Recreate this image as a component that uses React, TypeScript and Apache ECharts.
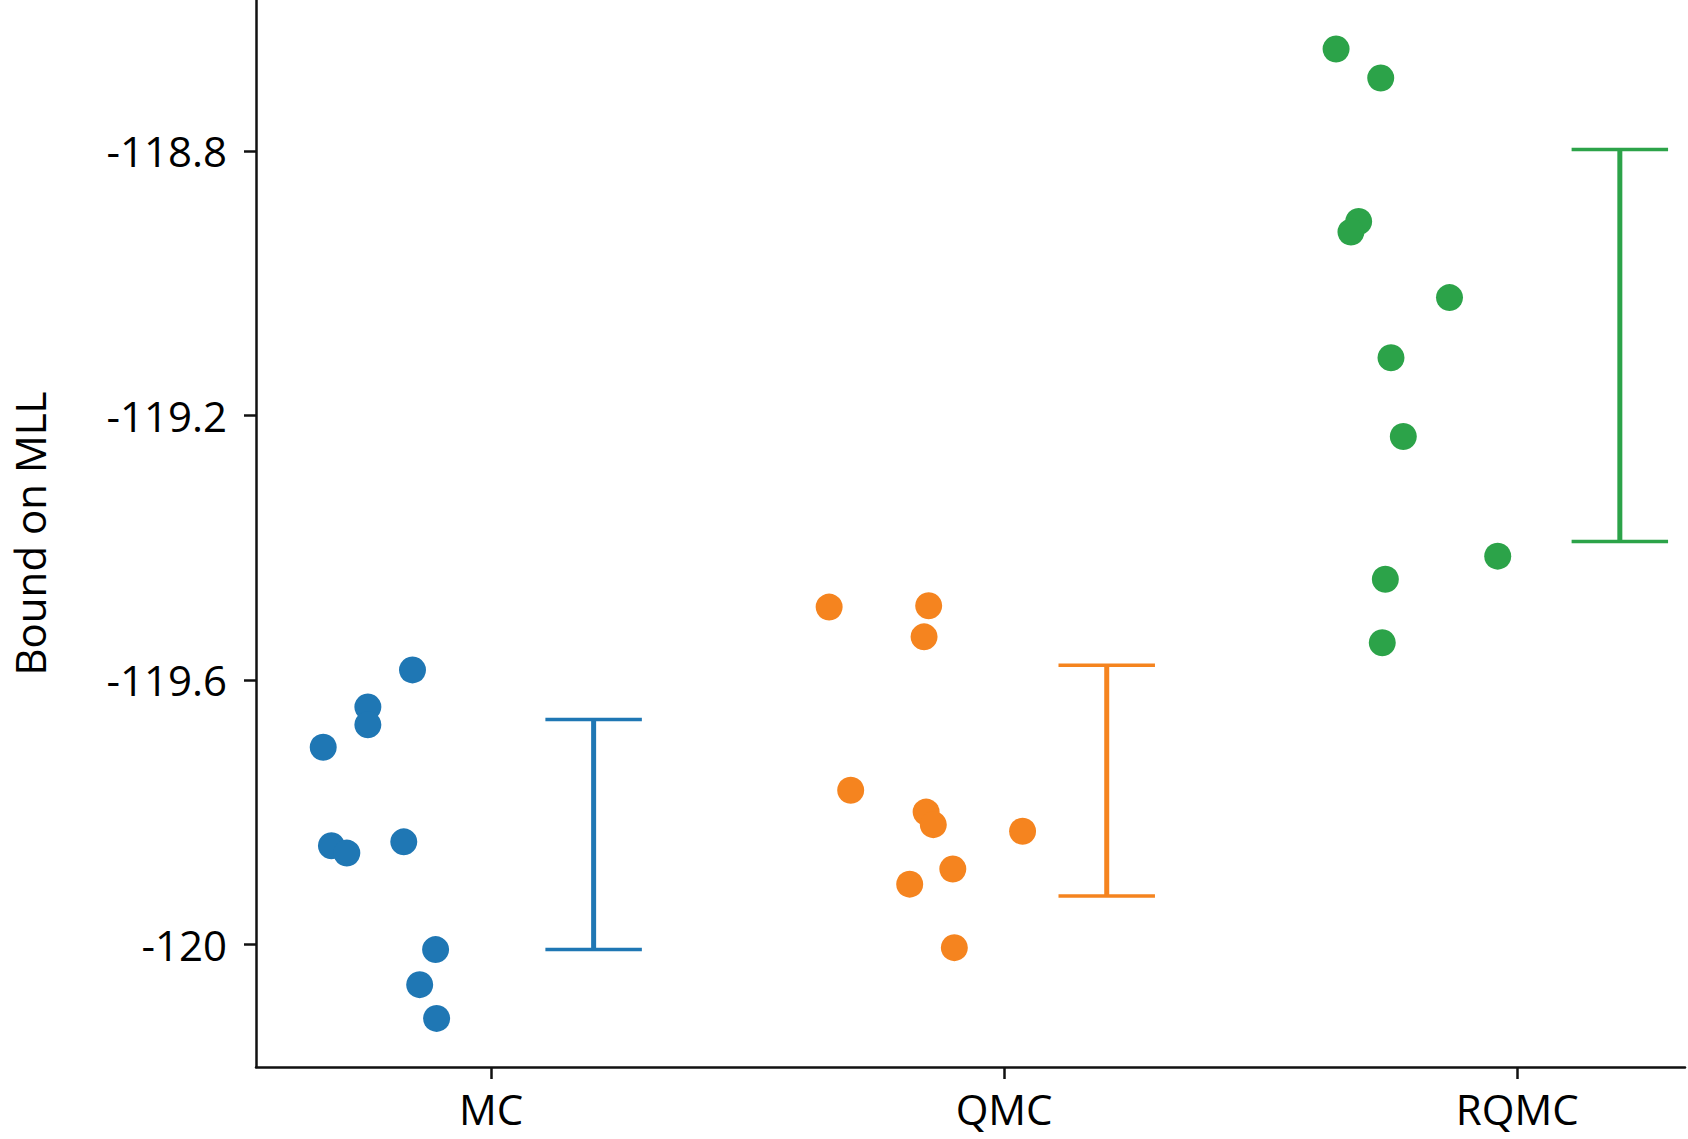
import React, { useEffect, useRef } from "react";
import * as echarts from "echarts";

const categories = ["MC", "QMC", "RQMC"];
const yTicks = [-120, -119.6, -119.2, -118.8];

const mcX = [-0.327, -0.24, -0.24, -0.153, -0.311, -0.281, -0.17, -0.108, -0.139, -0.106];
const mcY = [-119.702, -119.641, -119.668, -119.585, -119.851, -119.862, -119.845, -120.008, -120.061, -120.112];
const qmcX = [0.659, 0.853, 0.844, 0.701, 0.848, 0.862, 1.036, 0.9, 0.816, 0.903];
const qmcY = [-119.49, -119.488, -119.535, -119.767, -119.8, -119.819, -119.829, -119.886, -119.909, -120.005];
const rqmcX = [1.647, 1.734, 1.691, 1.676, 1.868, 1.754, 1.778, 1.962, 1.743, 1.737];
const rqmcY = [-118.646, -118.69, -118.907, -118.923, -119.022, -119.113, -119.232, -119.413, -119.448, -119.544];

const errX = [0.2, 1.2, 2.2];
const errHigh = [-119.66, -119.578, -118.798];
const errLow = [-120.008, -119.927, -119.391];

const colors = ["#1f77b4", "#f5841f", "#2ca349"];
const FONT = "Open Sans";

export default function App() {
  const ref = useRef<HTMLDivElement>(null);
  useEffect(() => {
    document.body.style.margin = "0";
    document.body.style.overflow = "hidden";
    const chart = echarts.init(ref.current!, null, { renderer: "svg" });
    const pts = [
      mcX.map((x, i) => [x, mcY[i]]),
      qmcX.map((x, i) => [x, qmcY[i]]),
      rqmcX.map((x, i) => [x, rqmcY[i]]),
    ];
    const capHalf = 0.094;
    const scatterSeries = pts.map((d, i) => ({
      type: "scatter",
      data: d,
      symbolSize: 27,
      itemStyle: { color: colors[i], opacity: 1 },
      z: 3,
    }));
    const errSeries = {
      type: "custom",
      data: errX.map((x, i) => [x, errLow[i], errHigh[i], i]),
      encode: { x: 0, y: [1, 2] },
      z: 2,
      renderItem: (params: any, api: any) => {
        const x = api.value(0);
        const lo = api.value(1);
        const hi = api.value(2);
        const idx = api.value(3);
        const c = colors[idx];
        const pHi = api.coord([x, hi]);
        const pLo = api.coord([x, lo]);
        const lHi = api.coord([x - capHalf, hi]);
        const rHi = api.coord([x + capHalf, hi]);
        const lLo = api.coord([x - capHalf, lo]);
        const rLo = api.coord([x + capHalf, lo]);
        return {
          type: "group",
          children: [
            { type: "line", shape: { x1: pHi[0], y1: pHi[1], x2: pLo[0], y2: pLo[1] }, style: { stroke: c, lineWidth: 5 } },
            { type: "line", shape: { x1: lHi[0], y1: lHi[1], x2: rHi[0], y2: rHi[1] }, style: { stroke: c, lineWidth: 3.5 } },
            { type: "line", shape: { x1: lLo[0], y1: lLo[1], x2: rLo[0], y2: rLo[1] }, style: { stroke: c, lineWidth: 3.5 } },
          ],
        };
      },
    };
    chart.setOption({
      animation: false,
      grid: { left: 256, right: 3, top: 0, bottom: 72, containLabel: false, outerBoundsMode: "none" },
      xAxis: {
        type: "value",
        min: -0.458,
        max: 2.327,
        splitLine: { show: false },
        axisLine: { show: true, onZero: false, lineStyle: { color: "#111", width: 2.5 } },
        axisTick: { show: true, length: 12, lineStyle: { color: "#111", width: 2.5 }, customValues: [0, 1, 2] },
        axisLabel: {
          customValues: [0, 1, 2],
          formatter: (v: number) => categories[Math.round(v)] ?? "",
          color: "#000",
          fontFamily: FONT,
          fontSize: 42,
          margin: 20,
        },
      },
      yAxis: {
        type: "value",
        min: -120.1855,
        max: -118.572,
        name: "Bound on MLL",
        nameLocation: "middle",
        nameGap: 206,
        nameTextStyle: { color: "#000", fontFamily: FONT, fontSize: 42 },
        splitLine: { show: false },
        axisLine: { show: true, onZero: false, lineStyle: { color: "#111", width: 2.5 } },
        axisTick: { show: true, length: 12, lineStyle: { color: "#111", width: 2.5 }, customValues: yTicks },
        axisLabel: {
          customValues: yTicks,
          formatter: (v: number) => {
            const s = (Math.round(v * 10) / 10).toFixed(1);
            return s.endsWith(".0") ? s.slice(0, -2) : s;
          },
          color: "#000",
          fontFamily: FONT,
          fontSize: 42,
          margin: 29,
        },
      },
      series: [...scatterSeries, errSeries],
    });
    return () => chart.dispose();
  }, []);
  return <div ref={ref} style={{ width: 1688, height: 1139 }} />;
}
